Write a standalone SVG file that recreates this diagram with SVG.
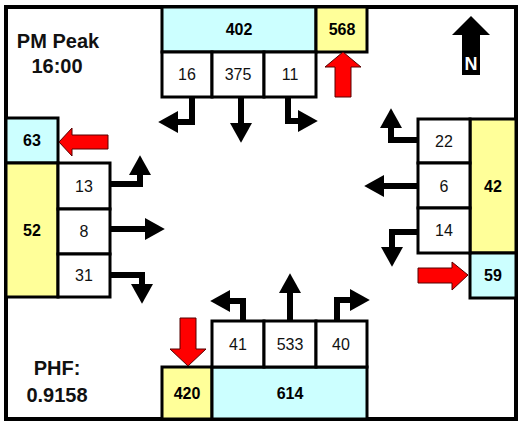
<svg xmlns="http://www.w3.org/2000/svg" width="518" height="421" viewBox="0 0 518 421">
<style>
.box{stroke:#000;stroke-width:3}
.w{fill:#fff}.y{fill:#ffff99}.c{fill:#ccffff}
.n{font-family:"Liberation Sans",Arial,sans-serif;font-size:16px;text-anchor:middle;fill:#111}
.b{font-family:"Liberation Sans",Arial,sans-serif;font-size:16px;font-weight:bold;text-anchor:middle;fill:#000}
.t{font-family:"Liberation Sans",Arial,sans-serif;font-size:20px;font-weight:bold;text-anchor:middle;fill:#111}
.mv{fill:none;stroke:#000;stroke-width:6;marker-end:url(#ah)}
.red{fill:#ff0000;stroke:#550000;stroke-width:1}
</style>
<defs>
<marker id="ah" markerUnits="userSpaceOnUse" markerWidth="20" markerHeight="22" refX="0" refY="10" orient="auto" viewBox="0 0 18 20">
<path d="M0,0 L18,10 L0,20 Z" fill="#000"/>
</marker>
</defs>
<rect x="0" y="0" width="518" height="421" fill="#fff"/>
<rect x="6" y="7" width="510" height="412" fill="#fff" stroke="#000" stroke-width="4"/>

<g id="title">
<text class="t" x="58" y="48" font-size="21">PM Peak</text>
<text class="t" x="57" y="73">16:00</text>
</g>
<g id="phf">
<text class="t" x="57" y="375">PHF:</text>
<text class="t" x="57" y="402">0.9158</text>
</g>
<g id="north">
<polygon points="471,16 490,35 480,35 480,75 462,75 462,35 452,35" fill="#000"/>
<text x="471" y="70" font-family="Liberation Sans,Arial,sans-serif" font-size="18" font-weight="bold" fill="#fff" text-anchor="middle">N</text>
</g>

<g id="north-approach">
<rect class="box c" x="162" y="7" width="154" height="45"/>
<text class="b" x="239" y="35">402</text>
<rect class="box y" x="316" y="7" width="51" height="45"/>
<text class="b" x="342" y="35">568</text>
<rect class="box w" x="162" y="52" width="50" height="45"/>
<text class="n" x="187" y="80">16</text>
<rect class="box w" x="212" y="52" width="52" height="45"/>
<text class="n" x="238" y="80">375</text>
<rect class="box w" x="264" y="52" width="52" height="45"/>
<text class="n" x="290" y="80">11</text>
</g>

<g id="west-approach">
<rect class="box c" x="6" y="118" width="52" height="45"/>
<text class="b" x="32" y="146">63</text>
<rect class="box y" x="6" y="163" width="52" height="134"/>
<text class="b" x="32" y="236">52</text>
<rect class="box w" x="58" y="163" width="52" height="46"/>
<text class="n" x="84" y="192">13</text>
<rect class="box w" x="58" y="209" width="52" height="45"/>
<text class="n" x="84" y="237">8</text>
<rect class="box w" x="58" y="254" width="52" height="43"/>
<text class="n" x="84" y="281">31</text>
</g>

<g id="east-approach">
<rect class="box y" x="470" y="119" width="46" height="134"/>
<text class="b" x="493" y="192">42</text>
<rect class="box c" x="470" y="253" width="46" height="45"/>
<text class="b" x="493" y="281">59</text>
<rect class="box w" x="418" y="119" width="52" height="44"/>
<text class="n" x="444" y="147">22</text>
<rect class="box w" x="418" y="163" width="52" height="45"/>
<text class="n" x="444" y="192">6</text>
<rect class="box w" x="418" y="208" width="52" height="45"/>
<text class="n" x="444" y="236">14</text>
</g>

<g id="south-approach">
<rect class="box y" x="162" y="367" width="50" height="52"/>
<text class="b" x="187" y="399">420</text>
<rect class="box c" x="212" y="367" width="155" height="52"/>
<text class="b" x="290" y="399">614</text>
<rect class="box w" x="212" y="321" width="52" height="46"/>
<text class="n" x="238" y="350">41</text>
<rect class="box w" x="264" y="321" width="52" height="46"/>
<text class="n" x="290" y="350">533</text>
<rect class="box w" x="316" y="321" width="51" height="46"/>
<text class="n" x="341" y="350">40</text>
</g>

<g id="connectors">
<path class="mv" d="M192,97 V122 H178"/>
<path class="mv" d="M241,97 V123"/>
<path class="mv" d="M288,97 V121 H298"/>
<path class="mv" d="M110,184 H140 V175"/>
<path class="mv" d="M110,229 H145"/>
<path class="mv" d="M110,275 H142 V284"/>
<path class="mv" d="M418,140 H391 V128"/>
<path class="mv" d="M418,186 H384"/>
<path class="mv" d="M418,232 H392 V247"/>
<path class="mv" d="M243,321 V301 H230"/>
<path class="mv" d="M290,321 V293"/>
<path class="mv" d="M337,321 V300 H350"/>
<polygon class="red" points="343,52 361,67 351,67 351,97 335,97 335,67 325,67"/>
<polygon class="red" points="59,142 72,128 72,135 108,135 108,149 72,149 72,156"/>
<polygon class="red" points="468,275 452,262 452,268 418,268 418,283 452,283 452,290"/>
<polygon class="red" points="188,366 206,349 196,349 196,318 180,318 180,349 170,349"/>
</g>
</svg>
